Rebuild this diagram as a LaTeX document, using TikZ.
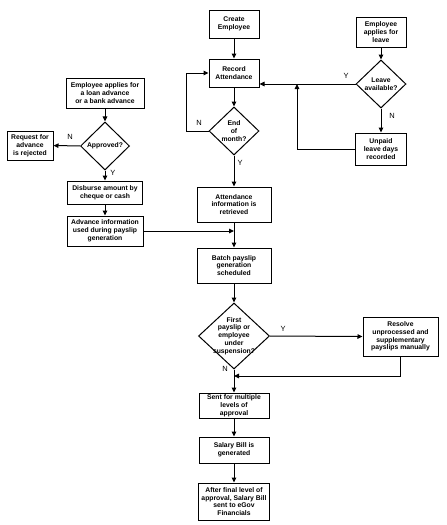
\documentclass[tikz,border=0pt]{standalone}
\usepackage{fontspec}
\setmainfont{Liberation Sans}
\usetikzlibrary{shapes.geometric,arrows.meta}
\newcommand{\boxfont}{\fontsize{6.8}{7.8}\selectfont\bfseries}
\newcommand{\lblfont}{\fontsize{7.5}{8}\selectfont}
\begin{document}
\begin{tikzpicture}[x=1pt,y=-1pt,
  stepbox/.style={draw, line width=1pt, align=center, inner sep=0pt, font=\boxfont},
  dia/.style={draw, diamond, line width=1pt, inner sep=0pt},
  dtext/.style={align=center, inner sep=0pt, font=\boxfont},
  arr/.style={-{Triangle[length=5pt,width=4.5pt]}, line width=1pt},
  yn/.style={font=\lblfont, inner sep=0pt}]
\fill[white] (0,0) rectangle (447,525);
\useasboundingbox (0,0) rectangle (447,525);

% main column
\node[stepbox, minimum width=50pt, minimum height=28pt] (create) at (234,24) {Create\\Employee};
\node[stepbox, minimum width=50pt, minimum height=28pt] (record) at (234,73) {Record\\Attendance};
\node[dia, minimum width=50pt, minimum height=48pt] (eom) at (234,131) {};
\node[dtext] (eomt) at (eom) {End\\of\\month?};
\node[stepbox, minimum width=74pt, minimum height=35pt] (attinfo) at (234,204.5) {Attendance\\information is\\retrieved};
\node[stepbox, minimum width=74pt, minimum height=35pt] (batch) at (234,265.5) {Batch payslip\\generation\\scheduled};
\node[dia, minimum width=71pt, minimum height=66pt] (first) at (234,336) {};
\node[dtext] (firstt) at (first) {First\\payslip or\\employee\\under\\suspension?};
\node[stepbox, minimum width=70pt, minimum height=25pt] (sent) at (234,405.5) {Sent for multiple\\levels of\\approval};
\node[stepbox, minimum width=70pt, minimum height=26pt] (salary) at (234,450) {Salary Bill is\\generated};
\node[stepbox, minimum width=71pt, minimum height=37pt] (final) at (234,501.5) {After final level of\\approval, Salary Bill\\sent to eGov\\Financials};

% right: leave
\node[stepbox, minimum width=50pt, minimum height=30pt] (leaveapp) at (381,32) {Employee\\applies for\\leave};
\node[dia, minimum width=50pt, minimum height=48pt] (leaveav) at (381,84) {};
\node[dtext] (leaveavt) at (leaveav) {Leave\\available?};
\node[stepbox, minimum width=51pt, minimum height=32pt] (unpaid) at (381,149) {Unpaid\\leave days\\recorded};
\coordinate (join) at (297,84);

% right: resolve
\node[stepbox, minimum width=75pt, minimum height=39pt] (resolve) at (400.5,336.5) {Resolve\\unprocessed and\\supplementary\\payslips manually};
\coordinate (merge) at (234,376);

% left: advance
\node[stepbox, minimum width=78pt, minimum height=30pt] (loanapp) at (105,93) {Employee applies for\\a loan advance\\or a bank advance};
\node[dia, minimum width=49pt, minimum height=48pt] (approved) at (105,146) {};
\node[dtext] (approvedt) at (approved) {Approved?};
\node[stepbox, minimum width=46pt, minimum height=29pt] (reject) at (30,145.5) {Request for\\advance\\is rejected};
\node[stepbox, minimum width=75pt, minimum height=23pt] (disburse) at (105,192.5) {Disburse amount by\\cheque or cash};
\node[stepbox, minimum width=76pt, minimum height=30pt] (advinfo) at (105,231) {Advance information\\used during payslip\\generation};

% connectors
\draw[arr] (create) -- (record);
\draw[arr] (record) -- (eom);
\draw[arr] (eom.west) -- ++(-22,0) |- (record.west);
\node[yn] (n1) at (199,123) {N};
\draw[arr] (eom) -- (attinfo);
\node[yn] (y1) at (240,163) {Y};
\draw[arr] (leaveapp) -- (leaveav);
\draw[arr] (leaveav.west) -- (record.east |- leaveav.west);
\node[yn] (y2) at (346,76) {Y};
\draw[arr] (leaveav) -- (unpaid);
\node[yn] (n2) at (392,116) {N};
\draw[arr] (unpaid.west) -| (join);
\draw[arr] (attinfo) -- (batch);
\draw[arr] (advinfo.east) -- (attinfo.south |- advinfo.east);
\draw[arr] (batch) -- (first);
\draw[arr] (first.east) -- (resolve.west);
\node[yn] (y3) at (283,329) {Y};
\draw[arr] (first) -- (sent);
\node[yn] (n3) at (225,369) {N};
\draw[arr] (resolve.south) |- (merge);
\draw[arr] (sent) -- (salary);
\draw[arr] (salary) -- (final);
\draw[arr] (loanapp) -- (approved);
\draw[arr] (approved) -- (reject);
\node[yn] (n4) at (70,137) {N};
\draw[arr] (approved) -- (disburse);
\node[yn] (y4) at (113,173) {Y};
\draw[arr] (disburse) -- (advinfo);
\end{tikzpicture}
\end{document}
